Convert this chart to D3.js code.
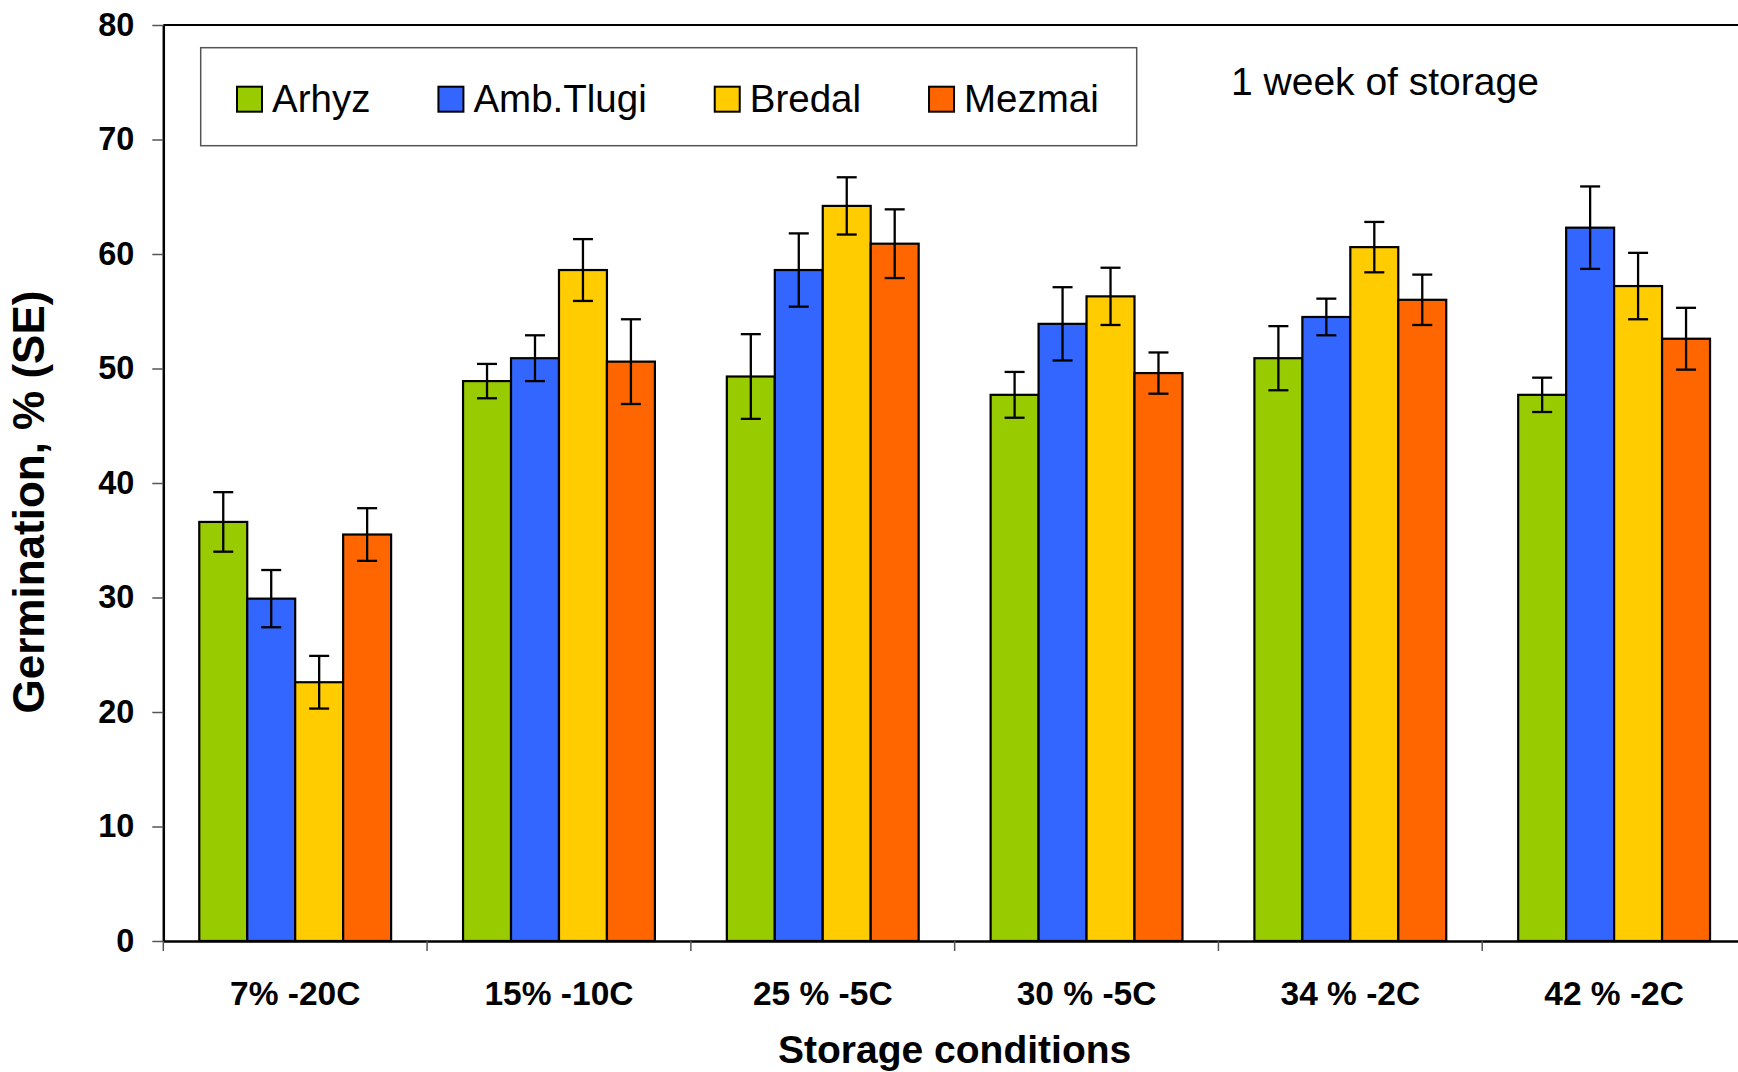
<!DOCTYPE html>
<html>
<head>
<meta charset="utf-8">
<script src="https://cdn.jsdelivr.net/npm/d3@7"></script>
<style>
  html, body { margin: 0; padding: 0; background: #fff; }
  svg { display: block; font-family: "Liberation Sans", Arial, sans-serif; }
</style>
</head>
<body>
<svg id="chart" width="1738" height="1072"></svg>
<script>
// ---- data ----
const categories = ["7% -20C", "15% -10C", "25 % -5C", "30 % -5C", "34 % -2C", "42 % -2C"];
const seriesNames = ["Arhyz", "Amb.Tlugi", "Bredal", "Mezmai"];
const seriesColors = ["#99CC00", "#3366FF", "#FFCC00", "#FF6600"];
const arhyz      = [36.6, 48.9, 49.3, 47.7, 50.9, 47.7];
const arhyzSE    = [2.6, 1.5, 3.7, 2.0, 2.8, 1.5];
const ambTlugi   = [29.9, 50.9, 58.6, 53.9, 54.5, 62.3];
const ambTlugiSE = [2.5, 2.0, 3.2, 3.2, 1.6, 3.6];
const bredal     = [22.6, 58.6, 64.2, 56.3, 60.6, 57.2];
const bredalSE   = [2.3, 2.7, 2.5, 2.5, 2.2, 2.9];
const mezmai     = [35.5, 50.6, 60.9, 49.6, 56.0, 52.6];
const mezmaiSE   = [2.3, 3.7, 3.0, 1.8, 2.2, 2.7];
const yTicks = [0, 10, 20, 30, 40, 50, 60, 70, 80];
const yTitle = "Germination, % (SE)";
const xTitle = "Storage conditions";
const note = "1 week of storage";

const seriesValues = [arhyz, ambTlugi, bredal, mezmai];
const seriesErrors = [arhyzSE, ambTlugiSE, bredalSE, mezmaiSE];

// ---- layout ----
const plot = { left: 163.3, right: 1746, top: 25, bottom: 941 };
const svg = d3.select("#chart");

const x0 = d3.scaleBand().domain(categories).range([plot.left, plot.right]).padding(0);
const x1 = d3.scaleBand().domain(seriesNames).range([0, x0.bandwidth()]).paddingInner(0).paddingOuter(0.75);
const y = d3.scaleLinear().domain([0, 80]).range([plot.bottom, plot.top]);

// bars
const rows = [];
categories.forEach((c, ci) => {
  seriesNames.forEach((s, si) => {
    rows.push({ cat: c, ser: s, v: seriesValues[si][ci], e: seriesErrors[si][ci], color: seriesColors[si] });
  });
});

const gBars = svg.append("g");
gBars.selectAll("rect").data(rows).join("rect")
  .attr("x", d => x0(d.cat) + x1(d.ser))
  .attr("y", d => y(d.v))
  .attr("width", x1.bandwidth())
  .attr("height", d => y(0) - y(d.v))
  .attr("fill", d => d.color)
  .attr("stroke", "#000")
  .attr("stroke-width", 2.2);

// error bars
const capW = 20;
const gErr = svg.append("g").attr("stroke", "#000").attr("stroke-width", 2.3);
rows.forEach(d => {
  const cx = x0(d.cat) + x1(d.ser) + x1.bandwidth() / 2;
  gErr.append("line").attr("x1", cx).attr("x2", cx).attr("y1", y(d.v + d.e)).attr("y2", y(d.v - d.e));
  gErr.append("line").attr("x1", cx - capW / 2).attr("x2", cx + capW / 2).attr("y1", y(d.v + d.e)).attr("y2", y(d.v + d.e));
  gErr.append("line").attr("x1", cx - capW / 2).attr("x2", cx + capW / 2).attr("y1", y(d.v - d.e)).attr("y2", y(d.v - d.e));
});

// plot frame (top & right)
svg.append("line").attr("x1", plot.left).attr("x2", plot.right).attr("y1", y(80)).attr("y2", y(80))
  .attr("stroke", "#000").attr("stroke-width", 2.2);
svg.append("line").attr("x1", plot.right).attr("x2", plot.right).attr("y1", y(80)).attr("y2", y(0))
  .attr("stroke", "#000").attr("stroke-width", 2.2);

// y axis
const yAxis = svg.append("g").attr("transform", `translate(${plot.left},0)`)
  .call(d3.axisLeft(y).tickValues(yTicks).tickSize(11).tickSizeOuter(0).tickPadding(18).tickFormat(d3.format("d")));
yAxis.select(".domain").attr("stroke", "#000").attr("stroke-width", 2.5);
yAxis.selectAll(".tick line").attr("stroke", "#555").attr("stroke-width", 1.5);
yAxis.selectAll(".tick text").attr("font-size", 32.5).attr("font-weight", "bold")
  .attr("font-family", "Liberation Sans, Arial, sans-serif").attr("fill", "#000");

// x axis
const xAxis = svg.append("g").attr("transform", `translate(0,${plot.bottom})`)
  .call(d3.axisBottom(x0).tickSize(0).tickSizeOuter(0).tickPadding(40));
xAxis.select(".domain").attr("stroke", "#000").attr("stroke-width", 2.5);
xAxis.selectAll(".tick text").attr("font-size", 33.5).attr("font-weight", "bold")
  .attr("font-family", "Liberation Sans, Arial, sans-serif").attr("fill", "#000");
// boundary ticks
const boundaries = categories.map(c => x0(c)).concat([plot.right]);
svg.append("g").selectAll("line").data(boundaries).join("line")
  .attr("x1", d => d).attr("x2", d => d)
  .attr("y1", plot.bottom).attr("y2", plot.bottom + 10)
  .attr("stroke", "#555").attr("stroke-width", 1.5);

// axis titles
svg.append("text")
  .attr("transform", `translate(44,${(plot.top + plot.bottom) / 2 + 19}) rotate(-90)`)
  .attr("text-anchor", "middle")
  .attr("font-size", 44).attr("font-weight", "bold").attr("fill", "#000")
  .text(yTitle);
svg.append("text")
  .attr("x", (plot.left + plot.right) / 2).attr("y", 1063)
  .attr("text-anchor", "middle")
  .attr("font-size", 39).attr("font-weight", "bold").attr("fill", "#000")
  .text(xTitle);

// note
svg.append("text").attr("x", 1231).attr("y", 95)
  .attr("font-size", 39).attr("fill", "#000").text(note);

// legend
const leg = svg.append("g");
leg.append("rect").attr("x", 200.7).attr("y", 47.7).attr("width", 936).attr("height", 98)
  .attr("fill", "#fff").attr("stroke", "#555").attr("stroke-width", 1.5);
let lx = 237;
const baseY = 111.7, sw = 25;
seriesNames.forEach((s, i) => {
  leg.append("rect").attr("x", lx).attr("y", baseY - sw).attr("width", sw).attr("height", sw)
    .attr("fill", seriesColors[i]).attr("stroke", "#000").attr("stroke-width", 2);
  const t = leg.append("text").attr("x", lx + sw + 10).attr("y", baseY)
    .attr("font-size", 38.5).attr("fill", "#000").text(s);
  lx = lx + sw + 10 + t.node().getComputedTextLength() + 68;
});
</script>
</body>
</html>
